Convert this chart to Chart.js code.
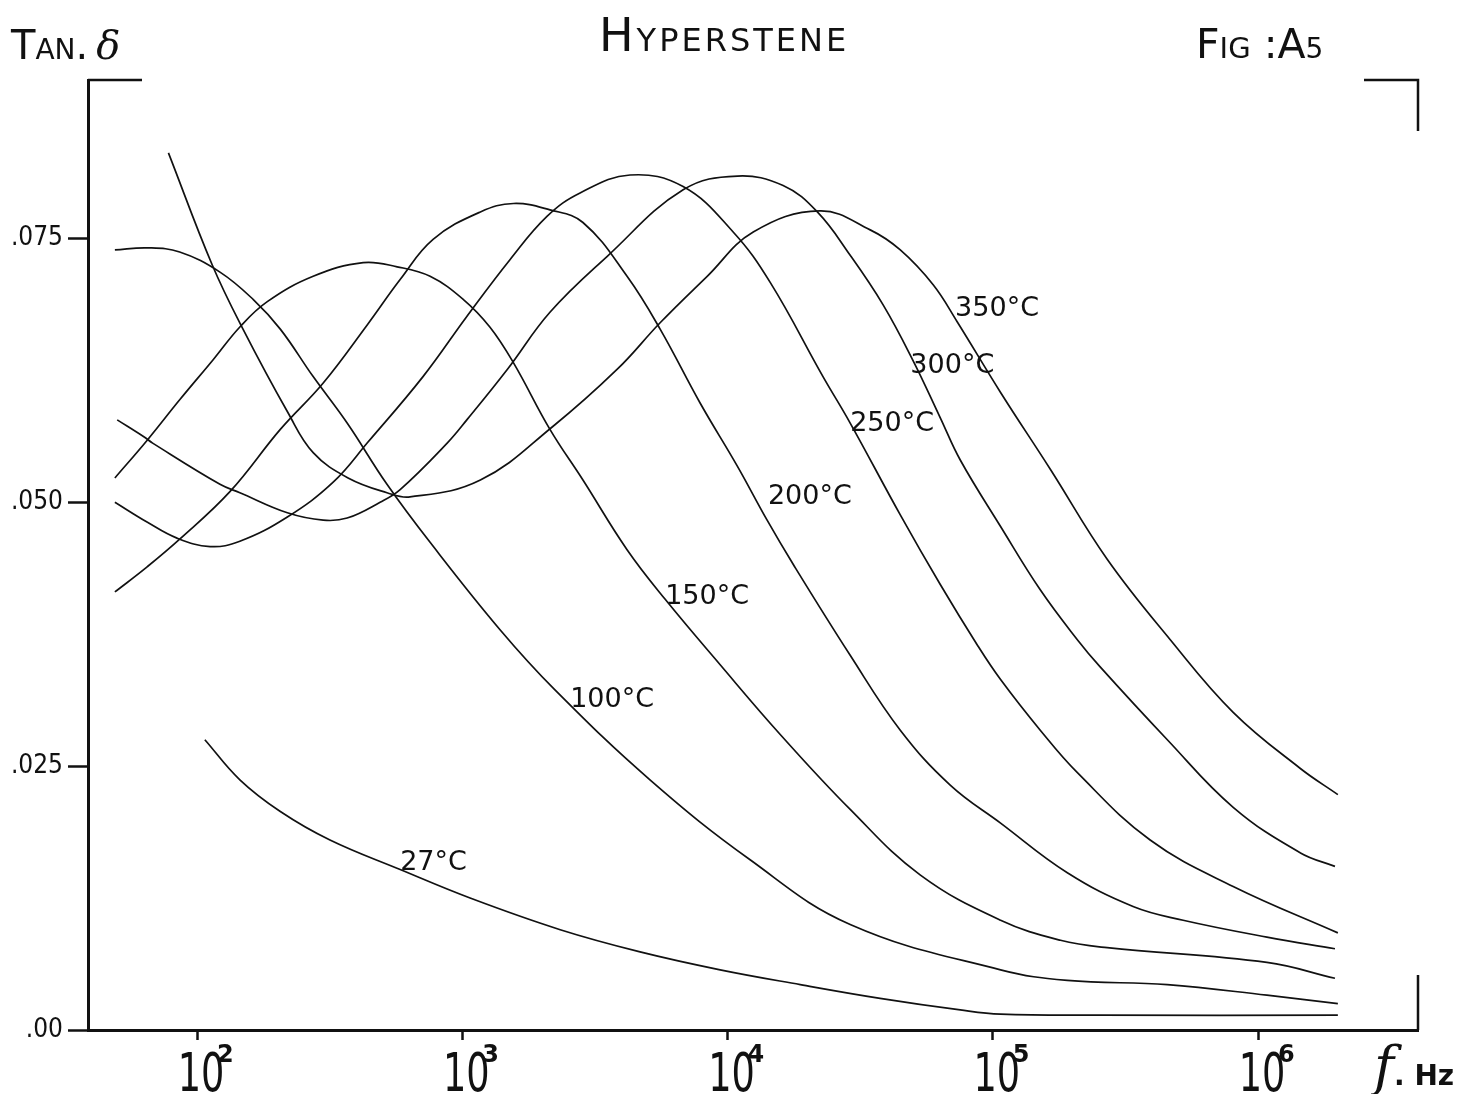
<!DOCTYPE html>
<html>
<head>
<meta charset="utf-8">
<title>Hyperstene - Fig A5</title>
<script src="https://cdn.jsdelivr.net/npm/chart.js@4.4.1/dist/chart.umd.min.js"></script>
<style>
  body { margin: 0; background: #fff; }
  #wrap { position: relative; width: 1466px; height: 1094px; font-family: 'DejaVu Sans', sans-serif; color: #111; }
  #grafico { position: absolute; left: 0; top: 0; }
  .texto { position: absolute; white-space: nowrap; line-height: 1; }
  .sc { font-variant: small-caps; }
</style>
</head>
<body>
<div id="wrap">
  <canvas id="grafico" width="1466" height="1094"></canvas>
  <div class="texto sc" style="left:11px; top:25px; font-size:40px">Tan.<span style="font-variant:normal; font-style:italic; font-family:'DejaVu Serif'; margin-left:8px">δ</span></div>
  <div class="texto sc" style="left:599px; top:12px; font-size:46px; letter-spacing:3px">Hyperstene</div>
  <div class="texto sc" style="left:1196px; top:24px; font-size:41px">Fig :A<span style="font-size:28px">5</span></div>
  <div class="texto" style="left:1374px; top:1040px; font-size:54px; font-style:italic; font-family:'DejaVu Serif'">f<span style="font-style:normal; font-family:'DejaVu Sans'; font-size:28px; font-weight:bold">. Hz</span></div>
</div>
<script>
(function () {
  // eixo x: frequencia (Hz), eixo y: tan delta
  const xTicks = [1e2, 1e3, 1e4, 1e5, 1e6]
  const xTickExp = ['2', '3', '4', '5', '6']
  const yTicks = [0, 0.025, 0.05, 0.075]
  const yTickLabels = ['.00', '.025', '.050', '.075']

  //curvas, uma por temperatura
  const freq27 = [107, 145, 206, 317, 583, 1070, 2340, 4680, 9380, 18800, 37600, 75400, 107000, 254000, 2000000]
  const tan27 = [0.0275, 0.0237, 0.0207, 0.0180, 0.0152, 0.0125, 0.0095, 0.0074, 0.0057, 0.0043, 0.0030, 0.0019, 0.0015, 0.0014, 0.0014]

  const freq100 = [49, 65, 86, 122, 163, 206, 274, 368, 520, 756, 1390, 2240, 5100, 12200, 29000, 107000, 191000, 455000, 1080000, 2000000]
  const tan100 = [0.0739, 0.0741, 0.0737, 0.0718, 0.0692, 0.0664, 0.0619, 0.0575, 0.0517, 0.0462, 0.0379, 0.0322, 0.0237, 0.0161, 0.0100, 0.0057, 0.0047, 0.0043, 0.0033, 0.0025]

  const freq150 = [49, 65, 86, 115, 145, 184, 274, 423, 568, 756, 1010, 1270, 1560, 2140, 2850, 4180, 5820, 9380, 15800, 29000, 53200, 107000, 180000, 270000, 1080000, 1950000]
  const tan150 = [0.0523, 0.0559, 0.0597, 0.0635, 0.0666, 0.0690, 0.0714, 0.0727, 0.0723, 0.0714, 0.0692, 0.0666, 0.0632, 0.0569, 0.0521, 0.0455, 0.0408, 0.0346, 0.0280, 0.0209, 0.0147, 0.0104, 0.0085, 0.0078, 0.0064, 0.0049]

  const freq200 = [49, 65, 86, 133, 206, 299, 438, 583, 776, 1170, 1560, 2140, 2850, 4180, 5570, 7880, 10900, 14100, 17700, 29000, 44800, 69100, 107000, 191000, 338000, 522000, 1080000, 1950000]
  const tan200 = [0.0415, 0.0439, 0.0465, 0.0510, 0.0569, 0.0613, 0.0668, 0.0711, 0.0749, 0.0775, 0.0783, 0.0777, 0.0765, 0.0714, 0.0664, 0.0594, 0.0534, 0.0483, 0.0441, 0.0355, 0.0284, 0.0232, 0.0196, 0.0149, 0.0117, 0.0104, 0.0088, 0.0077]

  const freq250 = [49, 65, 84, 112, 145, 219, 326, 441, 711, 1040, 1515, 2090, 2780, 4290, 6800, 10500, 14500, 22900, 29000, 44800, 63400, 87300, 107000, 151000, 208000, 392000, 806000, 2000000]
  const tan250 = [0.0500, 0.0481, 0.0466, 0.0458, 0.0463, 0.0486, 0.0519, 0.0557, 0.0619, 0.0676, 0.0730, 0.0771, 0.0793, 0.0810, 0.0799, 0.0756, 0.0708, 0.0619, 0.0575, 0.0488, 0.0422, 0.0365, 0.0332, 0.0284, 0.0244, 0.0180, 0.0136, 0.0092]

  const freq300 = [50, 63, 68, 122, 145, 219, 299, 368, 490, 583, 877, 1040, 1480, 2140, 3520, 6800, 10900, 16200, 21800, 29000, 38600, 50100, 63400, 75400, 107000, 151000, 208000, 254000, 455000, 806000, 1440000, 1950000]
  const tan300 = [0.0578, 0.0562, 0.0556, 0.0517, 0.0509, 0.0490, 0.0483, 0.0485, 0.0500, 0.0512, 0.0556, 0.0578, 0.0626, 0.0680, 0.0733, 0.0796, 0.0809, 0.0800, 0.0775, 0.0734, 0.0687, 0.0634, 0.0580, 0.0540, 0.0477, 0.0417, 0.0370, 0.0344, 0.0275, 0.0211, 0.0168, 0.0155]

  const freq350 = [78, 114, 149, 220, 274, 371, 520, 635, 1170, 2200, 3840, 5570, 8380, 12500, 22300, 34500, 44800, 59600, 73400, 107000, 165000, 270000, 466000, 806000, 1440000, 2000000]
  const tan350 = [0.0831, 0.0725, 0.0664, 0.0585, 0.0547, 0.0523, 0.0509, 0.0505, 0.0521, 0.0572, 0.0626, 0.0670, 0.0714, 0.0756, 0.0776, 0.0758, 0.0739, 0.0706, 0.0671, 0.0604, 0.0531, 0.0446, 0.0370, 0.0301, 0.0248, 0.0223]

  //rotulos das curvas e onde ficam (em Hz / tan delta)
  const curveLabels = ['27°C', '100°C', '150°C', '200°C', '250°C', '300°C', '350°C']
  const labelFreq = [583, 2550, 5820, 14200, 29000, 48900, 72100]
  const labelTan = [0.0158, 0.0313, 0.0410, 0.0505, 0.0574, 0.0629, 0.0683]

  const series = [
    [freq27, tan27], [freq100, tan100], [freq150, tan150], [freq200, tan200],
    [freq250, tan250], [freq300, tan300], [freq350, tan350]
  ]

  const datasets = series.map(([freqs, tans], i) => ({
    label: curveLabels[i],
    data: freqs.map((f, j) => ({ x: f, y: tans[j] })),
    borderColor: '#111',
    borderWidth: 1.7,
    pointRadius: 0,
    fill: false,
    tension: 0.4
  }))

  //moldura: cantos soltos de cima e o trecho da direita embaixo
  const moldura = {
    id: 'moldura',
    afterDraw(chart) {
      const { ctx, chartArea: a } = chart
      ctx.save()
      ctx.strokeStyle = '#111'
      ctx.lineWidth = 2.5
      ctx.beginPath()
      ctx.moveTo(a.left, a.top)
      ctx.lineTo(a.left + 54, a.top)
      ctx.moveTo(a.right - 54, a.top)
      ctx.lineTo(a.right, a.top)
      ctx.lineTo(a.right, a.top + 51)
      ctx.moveTo(a.right, a.bottom - 55)
      ctx.lineTo(a.right, a.bottom)
      ctx.stroke()
      ctx.restore()
    }
  }

  //rotulos 10^n do eixo x
  const rotulosEixoX = {
    id: 'rotulosEixoX',
    afterDraw(chart) {
      const { ctx, chartArea: a } = chart
      const x = chart.scales.x
      ctx.save()
      ctx.fillStyle = '#111'
      xTicks.forEach((v, i) => {
        const px = x.getPixelForValue(v)
        ctx.save()
        ctx.translate(px + 4, a.bottom + 61)
        ctx.scale(0.68, 1)
        ctx.font = '54px "DejaVu Sans"'
        ctx.textAlign = 'center'
        ctx.textBaseline = 'alphabetic'
        ctx.fillText('10', 0, 0)
        ctx.restore()
        ctx.font = 'bold 24px "DejaVu Sans"'
        ctx.textAlign = 'left'
        ctx.textBaseline = 'alphabetic'
        ctx.fillText(xTickExp[i], px + 20, a.bottom + 32)
      })
      ctx.restore()
    }
  }

  //temperatura escrita junto de cada curva
  const rotulosCurvas = {
    id: 'rotulosCurvas',
    afterDatasetsDraw(chart) {
      const { ctx } = chart
      const { x, y } = chart.scales
      ctx.save()
      ctx.fillStyle = '#111'
      ctx.font = '27px "DejaVu Sans"'
      ctx.textAlign = 'left'
      ctx.textBaseline = 'middle'
      curveLabels.forEach((txt, i) => {
        ctx.fillText(txt, x.getPixelForValue(labelFreq[i]), y.getPixelForValue(labelTan[i]))
      })
      ctx.restore()
    }
  }

  new Chart(document.getElementById('grafico'), {
    type: 'line',
    data: { datasets },
    options: {
      responsive: false,
      animation: false,
      devicePixelRatio: 1,
      layout: { padding: { top: 80, right: 48, left: 0, bottom: 0 } },
      plugins: {
        legend: { display: false },
        tooltip: { enabled: false },
        title: { display: false }
      },
      scales: {
        x: {
          type: 'logarithmic',
          bounds: 'data',
          min: 38.8,
          max: 4.01e6,
          afterBuildTicks: (s) => { s.ticks = xTicks.map(v => ({ value: v })) },
          afterFit: (s) => { s.height = 64 },
          grid: { drawOnChartArea: false, drawTicks: true, tickLength: 10, tickWidth: 2.5, tickColor: '#111' },
          border: { display: true, color: '#111', width: 3 },
          ticks: { display: false }
        },
        y: {
          bounds: 'data',
          min: 0,
          max: 0.09,
          afterBuildTicks: (s) => { s.ticks = yTicks.map(v => ({ value: v })) },
          afterFit: (s) => { s.width = 88 },
          grid: { drawOnChartArea: false, drawTicks: true, tickLength: 20, tickWidth: 2.5, tickColor: '#111' },
          border: { display: true, color: '#111', width: 3 },
          ticks: {
            callback: (v, i) => yTickLabels[i],
            font: { family: "'DejaVu Sans Condensed', 'DejaVu Sans'", size: 26 },
            color: '#111',
            padding: 5
          }
        }
      }
    },
    plugins: [moldura, rotulosEixoX, rotulosCurvas]
  })
})()
</script>
</body>
</html>
